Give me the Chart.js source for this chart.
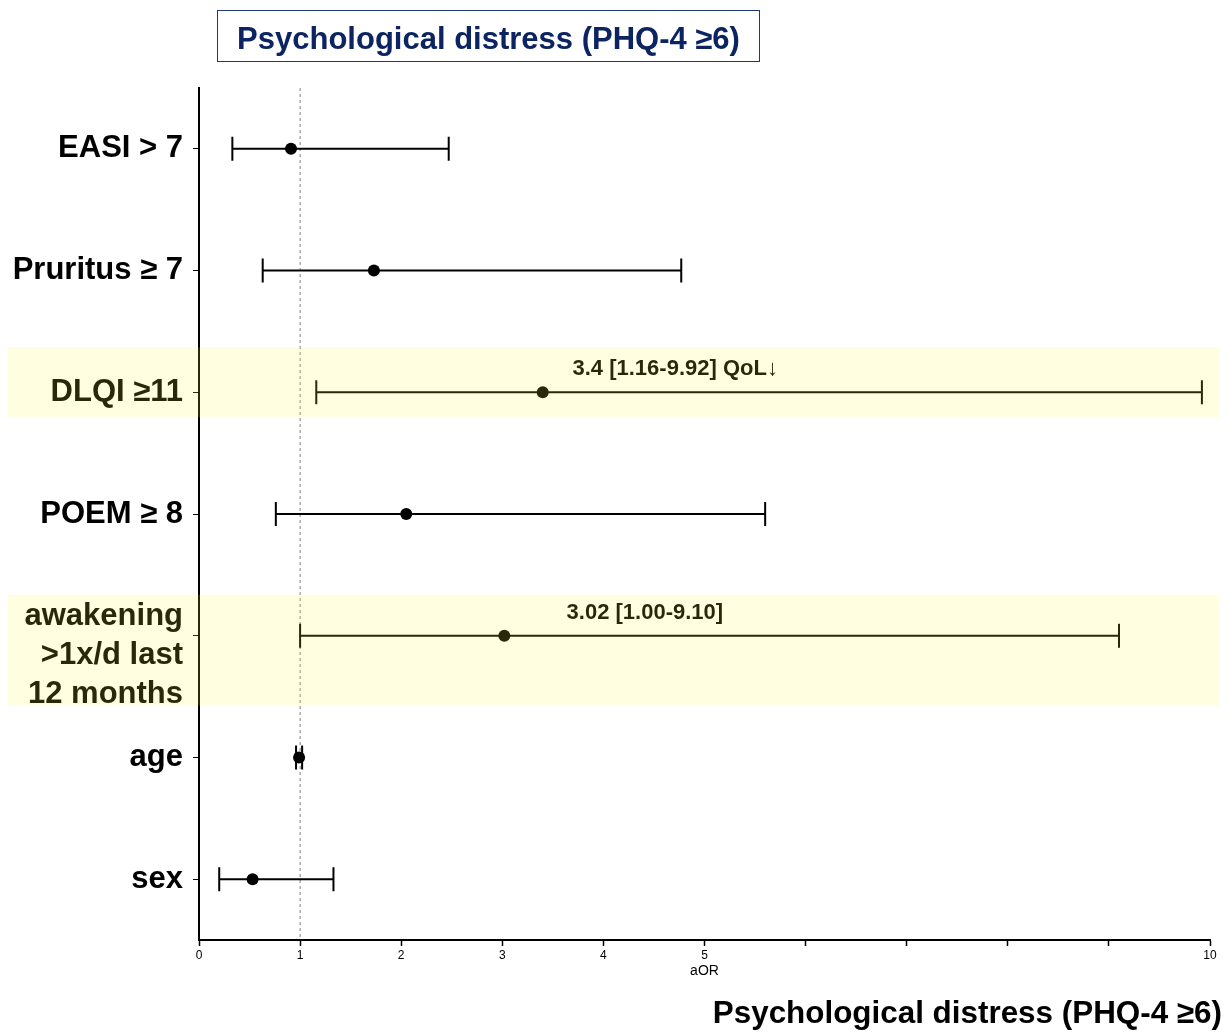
<!DOCTYPE html>
<html>
<head>
<meta charset="utf-8">
<script src="https://cdn.jsdelivr.net/npm/chart.js@4.4.1/dist/chart.umd.min.js"></script>
<style>
  html, body { margin: 0; padding: 0; background: #fff; }
  #wrap { position: relative; width: 1230px; height: 1032px; }
  #forest { position: absolute; left: 0; top: 0; }
  #topTitle {
    position: absolute; left: 217px; top: 10px; width: 541px; height: 50px;
    border: 1.5px solid #1f3a6e; box-sizing: content-box;
    font: bold 31px "Liberation Sans", Arial, sans-serif; color: #0c2461;
    text-align: center; line-height: 55px; white-space: nowrap;
  }
  #bottomTitle {
    position: absolute; right: 8px; top: 995px;
    font: bold 31.4px "Liberation Sans", Arial, sans-serif;
    color: #000; line-height: 36px; white-space: nowrap;
  }
</style>
</head>
<body>
<div id="wrap">
  <canvas id="forest" width="1230" height="1032"></canvas>
  <div id="topTitle">Psychological distress (PHQ-4 ≥6)</div>
  <div id="bottomTitle">Psychological distress (PHQ-4 ≥6)</div>
</div>
<script>
// row labels (top to bottom)
const labels = [
    'EASI > 7',
    'Pruritus ≥ 7',
    'DLQI ≥11',
    'POEM ≥ 8',
    ['', 'awakening', '>1x/d last', '12 months'],
    'age',
    'sex'
];
// adjusted odds ratios and 95% CI
const aOR = [0.91, 1.73, 3.40, 2.05, 3.02, 0.99, 0.53];
const ciLow = [0.33, 0.63, 1.16, 0.76, 1.00, 0.96, 0.20];
const ciHigh = [2.47, 4.77, 9.92, 5.60, 9.10, 1.02, 1.33];
// highlighted rows and their annotations
const highlightRows = [2, 4];
const annotText = ['3.4 [1.16-9.92] QoL↓', '3.02 [1.00-9.10]'];
const annotAt = [4.71, 4.41];
// x axis ticks that carry a label
const labelledTicks = [0, 1, 2, 3, 4, 5, 10];

const sans = '"Liberation Sans", Arial, sans-serif';

// dashed reference line at aOR = 1 and the CI whiskers
const whiskers = {
    id: 'whiskers',
    beforeDatasetsDraw(chart) {
        const ctx = chart.ctx;
        const x = chart.scales.x, y = chart.scales.y;
        const area = chart.chartArea;
        ctx.save();
        ctx.strokeStyle = '#808080';
        ctx.lineWidth = 1;
        ctx.setLineDash([3, 3]);
        ctx.beginPath();
        ctx.moveTo(x.getPixelForValue(1), area.top);
        ctx.lineTo(x.getPixelForValue(1), area.bottom);
        ctx.stroke();
        ctx.setLineDash([]);
        ctx.strokeStyle = '#000';
        ctx.lineWidth = 2;
        aOR.forEach(function(v, i) {
            const py = y.getPixelForValue(i);
            const x0 = x.getPixelForValue(ciLow[i]);
            const x1 = x.getPixelForValue(ciHigh[i]);
            ctx.beginPath();
            ctx.moveTo(x0, py); ctx.lineTo(x1, py);
            ctx.moveTo(x0, py - 12); ctx.lineTo(x0, py + 12);
            ctx.moveTo(x1, py - 12); ctx.lineTo(x1, py + 12);
            ctx.stroke();
        });
        ctx.restore();
    },
    afterDraw(chart) {
        const ctx = chart.ctx;
        const x = chart.scales.x, y = chart.scales.y;
        ctx.save();
        ctx.fillStyle = '#000';
        ctx.font = 'bold 22px ' + sans;
        ctx.textAlign = 'center';
        ctx.textBaseline = 'middle';
        highlightRows.forEach(function(row, k) {
            ctx.fillText(annotText[k], x.getPixelForValue(annotAt[k]), y.getPixelForValue(row) - 23);
        });
        // translucent yellow highlight over the rows
        ctx.fillStyle = 'rgba(255, 248, 60, 0.16)';
        highlightRows.forEach(function(row) {
            const py = y.getPixelForValue(row);
            const multi = Array.isArray(labels[row]);
            const top = py - (multi ? 41 : 45);
            const bottom = py + (multi ? 70 : 25);
            ctx.fillRect(8, top, 1211, bottom - top);
        });
        ctx.restore();
    }
};

new Chart(document.getElementById('forest').getContext('2d'), {
    type: 'line',
    data: {
        labels: labels,
        datasets: [{
            data: aOR,
            showLine: false,
            pointRadius: 6,
            pointHoverRadius: 6,
            pointBackgroundColor: '#000',
            pointBorderColor: '#000',
            pointBorderWidth: 0
        }]
    },
    options: {
        responsive: false,
        animation: false,
        indexAxis: 'y',
        layout: { padding: { top: 88, left: 0, right: 20, bottom: 52 } },
        plugins: {
            legend: { display: false },
            tooltip: { enabled: false },
            title: { display: false }
        },
        scales: {
            x: {
                type: 'linear',
                min: 0,
                max: 10,
                afterFit: function(axis) { axis.height = 40; },
                ticks: {
                    stepSize: 1,
                    color: '#000',
                    padding: 2,
                    font: { family: sans, size: 12 },
                    callback: function(v) { return labelledTicks.includes(v) ? String(v) : ''; }
                },
                grid: { drawOnChartArea: false, drawTicks: true, tickLength: 6, color: '#000', tickWidth: 1.5 },
                border: { display: true, color: '#000', width: 2 },
                title: {
                    display: true,
                    text: 'aOR',
                    color: '#000',
                    font: { family: sans, size: 14 },
                    padding: { top: 2, bottom: 0 }
                }
            },
            y: {
                type: 'category',
                offset: true,
                afterFit: function(axis) { axis.width = 199; },
                ticks: {
                    color: '#000',
                    padding: 10,
                    autoSkip: false,
                    font: { family: sans, size: 31, weight: 'bold', lineHeight: 1.26 }
                },
                grid: { drawOnChartArea: false, drawTicks: true, tickLength: 6, color: '#000', tickWidth: 1 },
                border: { display: true, color: '#000', width: 2 }
            }
        }
    },
    plugins: [whiskers]
});
</script>
</body>
</html>
